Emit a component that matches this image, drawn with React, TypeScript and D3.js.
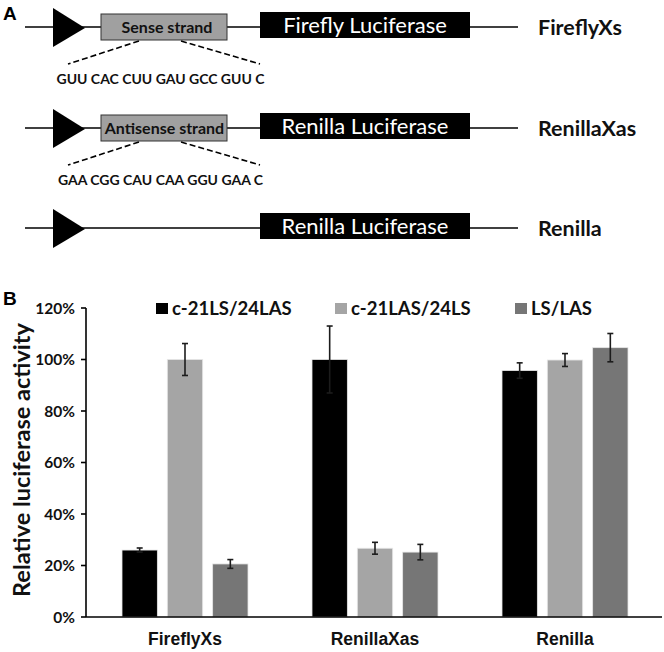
import React from 'react';
import * as d3 from 'd3';

// Panel A constructs
const constructNames = ['FireflyXs', 'RenillaXas', 'Renilla'];
const insertLabels = ['Sense strand', 'Antisense strand', null];
const insertSeqs = ['GUU CAC CUU GAU GCC GUU C', 'GAA CGG CAU CAA GGU GAA C', null];
const reporterLabels = ['Firefly Luciferase', 'Renilla Luciferase', 'Renilla Luciferase'];

// Panel B data
const groups = ['FireflyXs', 'RenillaXas', 'Renilla'];
const seriesNames = ['c-21LS/24LAS', 'c-21LAS/24LS', 'LS/LAS'];
const seriesColors = ['#000000', '#a5a5a5', '#767676'];
const values = [
  [0.26, 1.0, 0.957],
  [1.0, 0.267, 0.998],
  [0.206, 0.252, 1.046],
];
const errors = [
  [0.008, 0.13, 0.03],
  [0.062, 0.023, 0.025],
  [0.017, 0.03, 0.055],
];
const yTicks = [0, 0.2, 0.4, 0.6, 0.8, 1.0, 1.2];

const FONT = 'Lato, "Open Sans", sans-serif';
const ARIAL = '"Liberation Sans", Arial, sans-serif';

export default function App() {
  const rowY = [27, 128, 228];

  const y = d3.scaleLinear().domain([0, 1.2]).range([617, 308]);
  const x0 = d3.scaleBand().domain(groups).range([90, 660]).paddingInner(0).paddingOuter(0);
  const x1 = d3.scaleBand().domain(seriesNames).range([-63, 63]).paddingInner(0.22).paddingOuter(0);
  const pct = d3.format('.0%');

  return (
    <svg width={664} height={652} style={{ position: 'absolute', left: 0, top: 0, background: '#fff' }}
      fontFamily={FONT}>
      {/* Panel A */}
      <text x={3} y={20} fontSize={19} fontWeight={700} fontFamily={ARIAL}>A</text>
      {constructNames.map((name, i) => {
        const cy = rowY[i];
        const ins = insertLabels[i];
        const seq = insertSeqs[i];
        return (
          <g key={name}>
            <line x1={25} x2={518} y1={cy} y2={cy} stroke="#000" strokeWidth={1.6} />
            <polygon points={`53,${cy - 19} 53,${cy + 20} 85,${cy + 1}`} fill="#000" />
            {ins && (
              <g>
                <rect x={101} y={cy - 13} width={126} height={26} fill="#a0a0a0" stroke="#333" strokeWidth={1} />
                <text x={i === 0 ? 167 : 164.5} y={cy + 5.5} textAnchor="middle" fontSize={16} fontWeight={700} fill="#111">{ins}</text>
                <line x1={139} y1={cy + 14} x2={68} y2={cy + 37} stroke="#000" strokeWidth={1.6} strokeDasharray="6,3" />
                <line x1={181} y1={cy + 14} x2={260} y2={cy + 37} stroke="#000" strokeWidth={1.6} strokeDasharray="6,3" />
                <text x={160.5} y={cy + 57} textAnchor="middle" fontSize={14} fontWeight={700} fill="#111">{seq}</text>
              </g>
            )}
            <rect x={260} y={cy - 15} width={210} height={26} fill="#000" />
            <text x={365} y={cy + 6} textAnchor="middle" fontSize={22} fill="#fff">{reporterLabels[i]}</text>
            <text x={538} y={cy + 8} fontSize={21.5} fontWeight={700} fill="#111">{name}</text>
          </g>
        );
      })}

      {/* Panel B */}
      <text x={3} y={305} fontSize={19} fontWeight={700} fontFamily={ARIAL}>B</text>

      {/* Legend */}
      {seriesNames.map((s, i) => {
        const lx = [156, 335, 515][i];
        return (
          <g key={s}>
            <rect x={lx} y={303} width={12} height={11} fill={seriesColors[i]} />
            <text x={lx + 16} y={315} fontSize={18.5} fontWeight={700} fill="#111">{s}</text>
          </g>
        );
      })}

      {/* Bars */}
      {groups.map((g, gi) => (
        <g key={g} transform={`translate(${x0(g)! + x0.bandwidth() / 2},0)`}>
          {seriesNames.map((s, si) => {
            const v = values[si][gi];
            const e = errors[si][gi];
            const bx = x1(s)!;
            const cx = bx + x1.bandwidth() / 2;
            return (
              <g key={s}>
                <rect x={bx} y={y(v)} width={x1.bandwidth()} height={y(0) - y(v)}
                  fill={seriesColors[si]} stroke="#e6e6e6" strokeWidth={0.8} />
                <line x1={cx} x2={cx} y1={y(v + e)} y2={y(v - e)} stroke="#1c1c1c" strokeWidth={1.6} />
                <line x1={cx - 3} x2={cx + 3} y1={y(v + e)} y2={y(v + e)} stroke="#1c1c1c" strokeWidth={1.6} />
                <line x1={cx - 3} x2={cx + 3} y1={y(v - e)} y2={y(v - e)} stroke="#1c1c1c" strokeWidth={1.6} />
              </g>
            );
          })}
          <text x={0} y={645} textAnchor="middle" fontSize={17.5} fontWeight={700} fontFamily={ARIAL} fill="#111">{g}</text>
        </g>
      ))}

      {/* Axes */}
      <line x1={86} x2={662} y1={y(0)} y2={y(0)} stroke="#000" strokeWidth={1.6} />
      <line x1={86} x2={86} y1={y(0)} y2={y(1.2)} stroke="#000" strokeWidth={1.6} />
      {yTicks.map(t => (
        <g key={t}>
          <line x1={81} x2={86} y1={y(t)} y2={y(t)} stroke="#000" strokeWidth={1.6} />
          <text x={75} y={y(t) + 5.5} textAnchor="end" fontSize={15.5} fontWeight={700} fill="#111">{pct(t)}</text>
        </g>
      ))}
      <text transform={`translate(30,460) rotate(-90)`} textAnchor="middle" fontSize={23.5} fontWeight={700} fill="#111">
        Relative luciferase activity
      </text>
    </svg>
  );
}
